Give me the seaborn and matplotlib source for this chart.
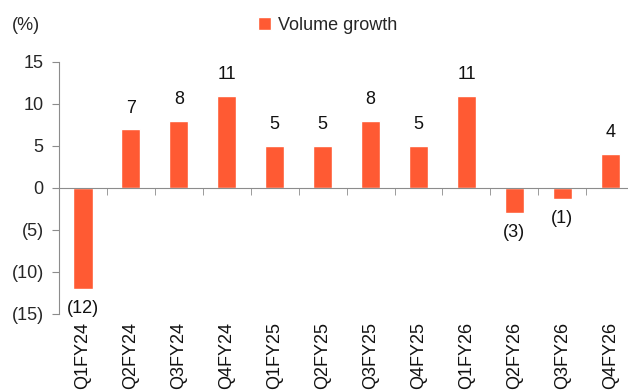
import matplotlib
matplotlib.use("Agg")
import matplotlib.pyplot as plt
import matplotlib.transforms as mtransforms
import seaborn as sns
import pandas as pd

# datos del grafico
quarters = ["Q1FY24", "Q2FY24", "Q3FY24", "Q4FY24", "Q1FY25", "Q2FY25",
            "Q3FY25", "Q4FY25", "Q1FY26", "Q2FY26", "Q3FY26", "Q4FY26"]
volume_growth = [-12, 7, 8, 11, 5, 5, 8, 5, 11, -3, -1.3, 4.1]
y_ticks = [15, 10, 5, 0, -5, -10, -15]

bar_color = "#FF5A33"
grey = "#8C8C8C"

sns.set_style("white")
plt.rcParams["font.family"] = ["Liberation Sans", "DejaVu Sans"]


def fmt(v):
    v = round(v)
    return f"({abs(v)})" if v < 0 else f"{v}"


df = pd.DataFrame({"quarter": quarters, "growth": volume_growth})

fig = plt.figure(figsize=(6.28, 3.92), dpi=100)
ax = fig.add_axes([59 / 628, 1 - 314 / 392, (628 - 59) / 628, (314 - 62) / 392])

sns.barplot(data=df, x="quarter", y="growth", color=bar_color, width=0.4,
            saturation=1, label="Volume growth", ax=ax)

ax.set_ylim(-15, 15)
ax.set_xlim(-0.5, 11.37)
ax.set_yticks(y_ticks)
ax.set_yticklabels([fmt(t) for t in y_ticks], fontsize=13)
ax.set_xlabel("")
ax.set_ylabel("")

# ejes
for s in ["top", "right"]:
    ax.spines[s].set_visible(False)
ax.spines["left"].set_color(grey)
ax.spines["bottom"].set_color(grey)
ax.spines["bottom"].set_position(("data", 0))
ax.tick_params(axis="y", direction="out", length=5, color=grey, pad=6, left=True)

# marcas del eje x entre categorias
ax.set_xticks([i + 0.5 for i in range(len(quarters) - 1)], minor=True)
ax.set_xticks(range(len(quarters)))
ax.set_xticklabels([])
ax.tick_params(axis="x", which="major", length=0)
ax.tick_params(axis="x", which="minor", direction="out", length=5, color=grey, bottom=True)

# etiquetas de categorias abajo
trans = mtransforms.blended_transform_factory(ax.transData, ax.transAxes)
for i, q in enumerate(quarters):
    ax.text(i, -0.03, q, rotation=90, ha="center", va="top", fontsize=13,
            transform=trans, color="#111111")

# etiquetas de valores
for i, v in enumerate(volume_growth):
    off = 9 if v >= 0 else -8
    ax.annotate(fmt(v), (i, v), xytext=(0, off), textcoords="offset points",
                ha="center", va="bottom" if v >= 0 else "top", fontsize=13,
                color="#111111")

fig.text(12 / 628, 1 - 25 / 392, "(%)", fontsize=13, va="center", ha="left")
ax.legend(loc="center", bbox_to_anchor=(328 / 628, 1 - 25 / 392),
          bbox_transform=fig.transFigure, frameon=False, fontsize=13,
          handlelength=0.7, handleheight=0.7, handletextpad=0.4)

fig.savefig("out.png", dpi=100)
